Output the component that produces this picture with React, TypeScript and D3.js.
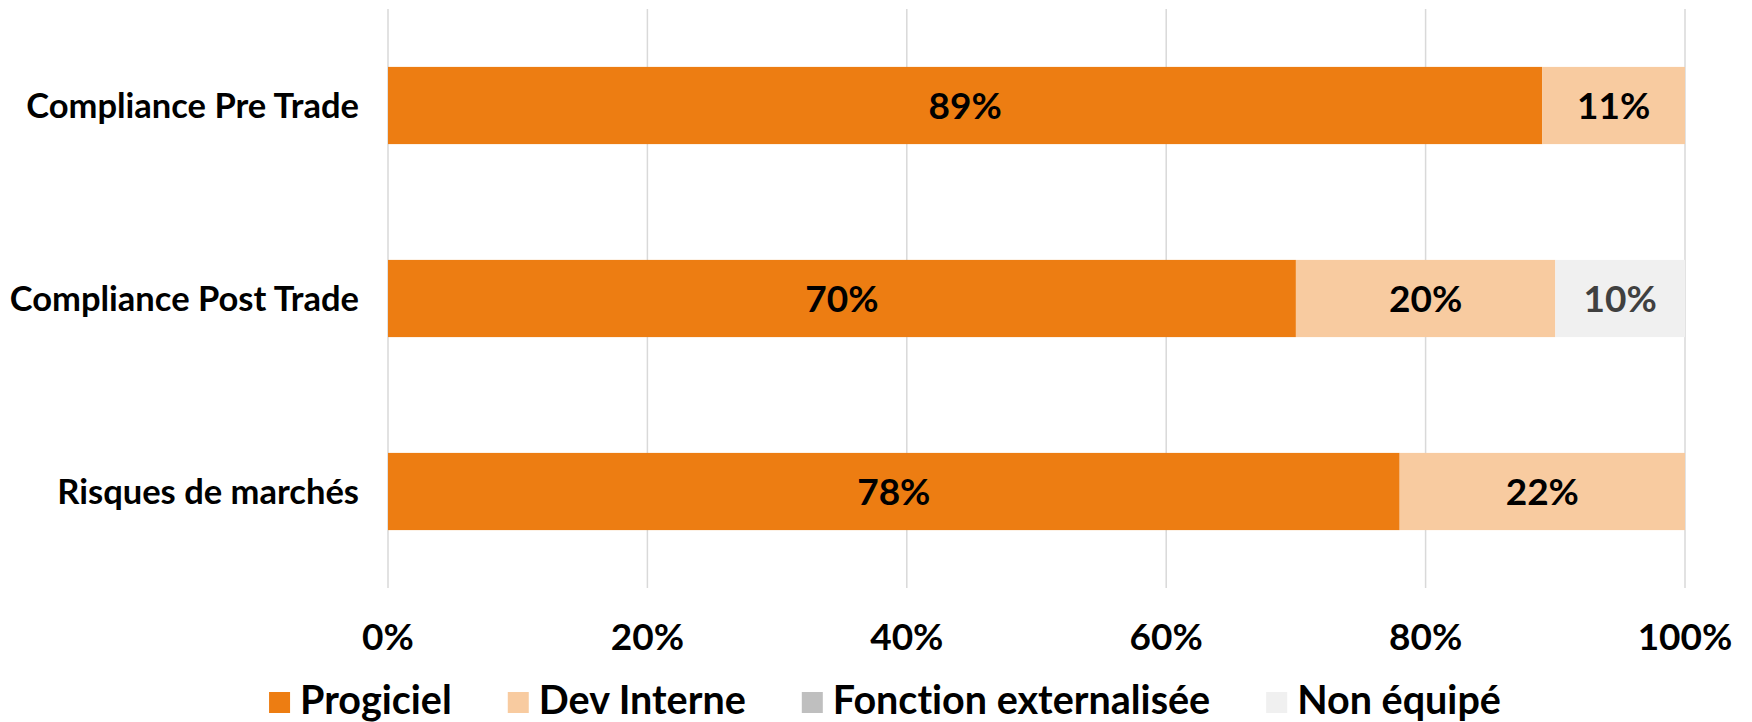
import React, { useEffect, useRef } from 'react';
import * as d3 from 'd3';

// Chart data
const categories = ['Compliance Pre Trade', 'Compliance Post Trade', 'Risques de marchés'];
const seriesNames = ['Progiciel', 'Dev Interne', 'Fonction externalisée', 'Non équipé'];
const progiciel = [89, 70, 78];
const devInterne = [11, 20, 22];
const fonctionExternalisee = [0, 0, 0];
const nonEquipe = [0, 10, 0];
const xTicks = [0, 20, 40, 60, 80, 100];

const seriesColors = ['#ED7D12', '#F8CBA0', '#BFBFBF', '#F0F0F0'];
const labelColors = ['#000000', '#000000', '#000000', '#404040'];

const WIDTH = 1752;
const HEIGHT = 722;
const FONT = 'Lato, "Noto Sans", sans-serif';

const App: React.FC = () => {
  const svgRef = useRef<SVGSVGElement>(null);

  useEffect(() => {
    if (!svgRef.current) return;
    const svg = d3.select(svgRef.current);
    svg.selectAll('*').remove();

    const plot = { left: 388, right: 1685, top: 9, bottom: 588 };

    const rows = categories.map((c, i) => ({
      category: c,
      Progiciel: progiciel[i],
      'Dev Interne': devInterne[i],
      'Fonction externalisée': fonctionExternalisee[i],
      'Non équipé': nonEquipe[i]
    }));

    const x = d3.scaleLinear().domain([0, 100]).range([plot.left, plot.right]);
    const y = d3
      .scaleBand<string>()
      .domain(categories)
      .range([plot.top, plot.bottom])
      .paddingInner(0.6)
      .paddingOuter(0.3);

    const color = d3.scaleOrdinal<string, string>().domain(seriesNames).range(seriesColors);
    const labelColor = d3.scaleOrdinal<string, string>().domain(seriesNames).range(labelColors);

    // Gridlines
    svg
      .append('g')
      .selectAll('line')
      .data(xTicks)
      .join('line')
      .attr('x1', d => x(d))
      .attr('x2', d => x(d))
      .attr('y1', plot.top)
      .attr('y2', plot.bottom)
      .attr('stroke', '#D9D9D9')
      .attr('stroke-width', 1.5);

    const stacked = d3.stack<any>().keys(seriesNames)(rows);

    // Bars
    const layers = svg
      .append('g')
      .selectAll('g')
      .data(stacked)
      .join('g')
      .attr('fill', d => color(d.key));

    layers
      .selectAll('rect')
      .data(d => d.map(s => ({ s, key: d.key })))
      .join('rect')
      .attr('x', d => x(d.s[0]))
      .attr('y', d => y(d.s.data.category) as number)
      .attr('width', d => x(d.s[1]) - x(d.s[0]))
      .attr('height', y.bandwidth());

    // Data labels
    svg
      .append('g')
      .selectAll('g')
      .data(stacked)
      .join('g')
      .selectAll('text')
      .data(d => d.filter(s => s[1] - s[0] > 0).map(s => ({ s, key: d.key })))
      .join('text')
      .attr('x', d => x((d.s[0] + d.s[1]) / 2))
      .attr('y', d => (y(d.s.data.category) as number) + y.bandwidth() / 2)
      .attr('dy', '0.36em')
      .attr('text-anchor', 'middle')
      .attr('font-family', FONT)
      .attr('font-weight', 'bold')
      .attr('font-size', 37)
      .attr('fill', d => labelColor(d.key))
      .text(d => `${d.s[1] - d.s[0]}%`);

    // Category labels
    svg
      .append('g')
      .selectAll('text')
      .data(categories)
      .join('text')
      .attr('x', 359)
      .attr('y', d => (y(d) as number) + y.bandwidth() / 2)
      .attr('dy', '0.36em')
      .attr('text-anchor', 'end')
      .attr('font-family', FONT)
      .attr('font-weight', 'bold')
      .attr('font-size', 34.5)
      .attr('fill', '#000')
      .text(d => d);

    // X tick labels
    svg
      .append('g')
      .selectAll('text')
      .data(xTicks)
      .join('text')
      .attr('x', d => x(d))
      .attr('y', 650)
      .attr('text-anchor', 'middle')
      .attr('font-family', FONT)
      .attr('font-weight', 'bold')
      .attr('font-size', 37)
      .attr('fill', '#000')
      .text(d => `${d}%`);

    // Legend, laid out from measured text widths
    const legend = svg.append('g');
    const swatch = 21;
    const swatchGap = 10;
    const itemGap = 56;
    const items = legend
      .selectAll('g')
      .data(seriesNames)
      .join('g');
    items
      .append('rect')
      .attr('width', swatch)
      .attr('height', swatch)
      .attr('y', 692)
      .attr('fill', d => color(d));
    const texts = items
      .append('text')
      .attr('y', 714)
      .attr('font-family', FONT)
      .attr('font-weight', 'bold')
      .attr('font-size', 39.5)
      .style('font-variant-ligatures', 'none')
      .attr('fill', '#000')
      .text(d => d);

    const widths: number[] = [];
    texts.each(function () {
      widths.push((this as SVGTextElement).getComputedTextLength());
    });
    const total =
      d3.sum(widths, w => swatch + swatchGap + w) + itemGap * (seriesNames.length - 1);
    let cursor = 885 - total / 2;
    const offsets = widths.map(w => {
      const o = cursor;
      cursor += swatch + swatchGap + w + itemGap;
      return o;
    });
    items.attr('transform', (_, i) => `translate(${offsets[i]},0)`);
    texts.attr('x', swatch + swatchGap);
  }, []);

  return (
    <div style={{ position: 'absolute', left: 0, top: 0, background: '#fff' }}>
      <svg ref={svgRef} width={WIDTH} height={HEIGHT} style={{ display: 'block' }} />
    </div>
  );
};

export default App;
